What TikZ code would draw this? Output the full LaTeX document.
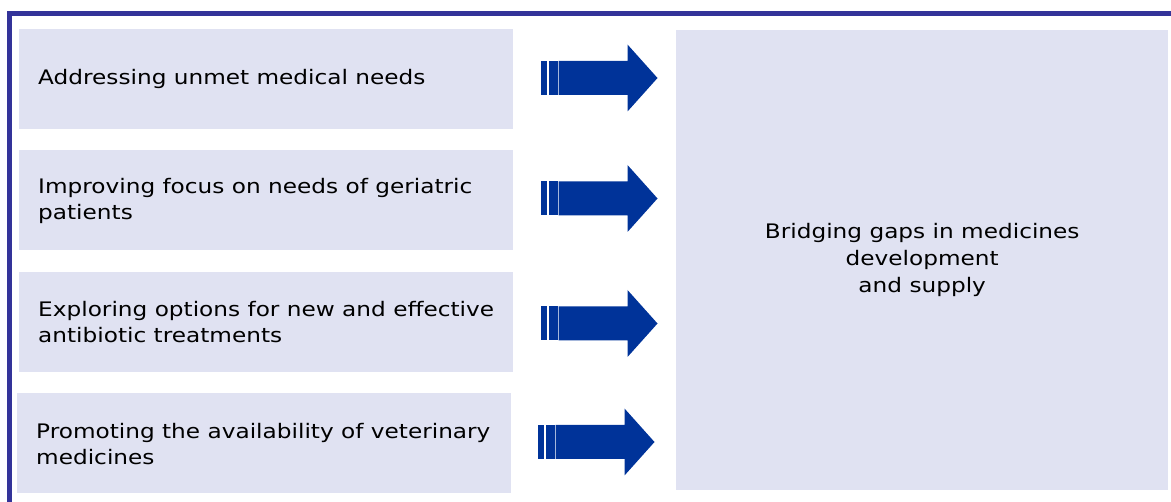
\documentclass[tikz,border=0pt]{standalone}
\usepackage{fontspec}
\setmainfont[FakeStretch=1.16]{DejaVu Sans}
\definecolor{frameblue}{HTML}{333399}
\definecolor{arrowblue}{HTML}{003399}
\definecolor{boxfill}{HTML}{E0E2F2}

\tikzset{
  goalbox/.style={fill=boxfill, minimum width=494pt, minimum height=100pt, anchor=north west},
  goaltext/.style={anchor=west, align=left, inner sep=0pt, font=\fontsize{20}{26.5}\selectfont},
}

\begin{document}
\begin{tikzpicture}[x=1pt,y=1pt,yscale=-1,xscale=1]
		\useasboundingbox (0,0) rectangle (1171,502);

		% Frame: top and left edges only
		\draw[frameblue, line width=5pt] (9.5,502) -- (9.5,13.5) -- (1171,13.5);

		% Boxes on the left
		\node[goalbox] (need) at (19,29) {};
		\node[goalbox] (geri) at (19,150) {};
		\node[goalbox] (anti) at (19,272) {};
		\node[goalbox] (vet) at (17,393) {};

		% Box on the right
		\node[fill=boxfill, minimum width=492pt, minimum height=460pt, anchor=north west] (gap) at (676,30) {};

		% Texts in the boxes
		\node[goaltext] (needtxt) at (38,79) {Addressing unmet medical needs};
		\node[goaltext] (geritxt) at (38,201) {Improving focus on needs of geriatric\\patients};
		\node[goaltext] (antitxt) at (38,322) {Exploring options for new and effective\\antibiotic treatments};
		\node[goaltext] (vettxt) at (36,444) {Promoting the availability of veterinary\\medicines};
		\node[align=center, inner sep=0pt, font=\fontsize{20}{27}\selectfont] (gaptxt) at (gap.center) {Bridging gaps in medicines\\development\\and supply};

		% Block arrows: bar start x, centre y
		\foreach \ax/\ay in {540.5/78, 540.5/198.5, 540.5/323.5, 537.5/442}{
			\fill[arrowblue] (\ax,\ay-17) rectangle ++(6.5,34);
			\fill[arrowblue] (\ax+8,\ay-17) rectangle ++(9,34);
			\fill[arrowblue] (\ax+18,\ay-17) -- (\ax+87,\ay-17) -- (\ax+87,\ay-33.5) -- (\ax+117,\ay)
				-- (\ax+87,\ay+33.5) -- (\ax+87,\ay+17) -- (\ax+18,\ay+17) -- cycle;
		}
	\end{tikzpicture}
\end{document}
